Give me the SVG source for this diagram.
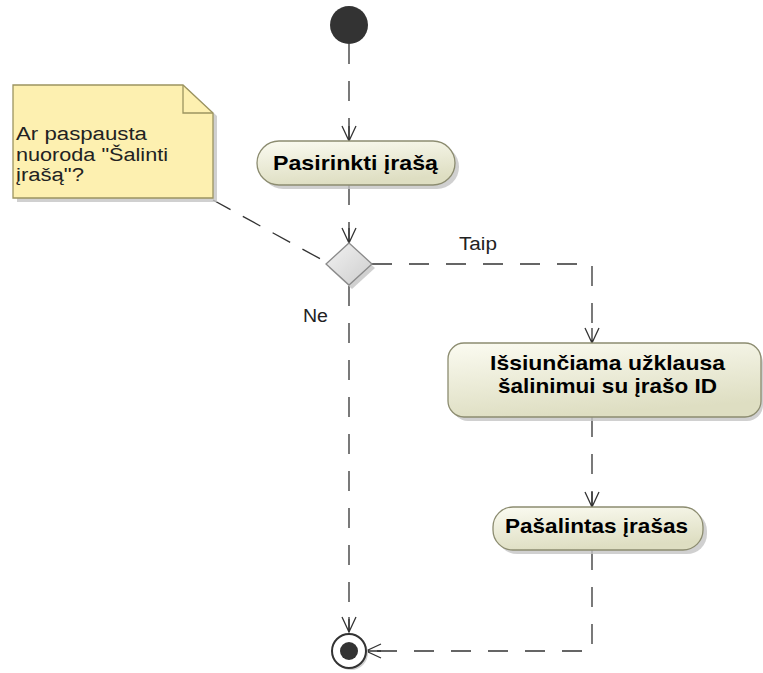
<svg xmlns="http://www.w3.org/2000/svg" width="763" height="673" viewBox="0 0 763 673">
<style>
.edge{fill:none;stroke:#333;stroke-width:1.3;stroke-dasharray:20 17}
.act{stroke:#8c8c70;stroke-width:1.3;fill:url(#gAct)}
.shadow{fill:#c4c4c4;opacity:0.8}
.bt{font-family:"Liberation Sans",Arial,sans-serif;font-weight:bold;font-size:21px;fill:#000}
.lt{font-family:"Liberation Sans",Arial,sans-serif;font-size:18px;fill:#222}
</style>
<defs>
<linearGradient id="gAct" x1="0" y1="0" x2="0.3" y2="1">
<stop offset="0" stop-color="#fbfbf1"/>
<stop offset="1" stop-color="#dedec2"/>
</linearGradient>
<linearGradient id="gDec" x1="0" y1="0" x2="1" y2="1">
<stop offset="0" stop-color="#f2f2f2"/>
<stop offset="1" stop-color="#cdcdcd"/>
</linearGradient>
<marker id="arr" markerUnits="userSpaceOnUse" markerWidth="20" markerHeight="20" viewBox="-16 -10 20 20" refX="0" refY="0" orient="auto">
<path d="M-15,-7 L0,0 L-15,7 M-15,0 L0,0" fill="none" stroke="#333" stroke-width="1.3"/>
</marker>
</defs>

<g id="connectors">
<path class="edge" d="M349,44 L349,141" marker-end="url(#arr)"/>
<path class="edge" d="M349,185 L349,243" marker-end="url(#arr)"/>
<path class="edge" d="M372,264 L592,264 L592,343" marker-end="url(#arr)"/>
<path class="edge" d="M349,286 L349,632" marker-end="url(#arr)"/>
<path class="edge" d="M592,417 L592,507" marker-end="url(#arr)"/>
<path class="edge" d="M592,550 L592,651 L366,651" marker-end="url(#arr)"/>
<path class="edge" d="M213,200 L326,262" style="stroke-dasharray:20 14"/>
<text class="lt" x="459" y="250" textLength="38" lengthAdjust="spacingAndGlyphs">Taip</text>
<text class="lt" x="303" y="322" textLength="25" lengthAdjust="spacingAndGlyphs">Ne</text>
</g>

<g id="start">
<circle cx="349" cy="25" r="19" fill="#333"/>
</g>

<g id="note">
<path class="shadow" d="M17,88 L187,88 L217,116 L217,202 L17,202 Z"/>
<path d="M13,85 L183,85 L213,113 L213,198 L13,198 Z" fill="#fdf0b0" stroke="#9c9460" stroke-width="1.3"/>
<path d="M183,85 L183,113 L213,113" fill="none" stroke="#9c9460" stroke-width="1.3"/>
<text class="lt" x="16" y="140" textLength="131" lengthAdjust="spacingAndGlyphs">Ar paspausta</text>
<text class="lt" x="16" y="161" textLength="152" lengthAdjust="spacingAndGlyphs">nuoroda "Šalinti</text>
<text class="lt" x="16" y="181" textLength="68" lengthAdjust="spacingAndGlyphs">įrašą"?</text>
</g>

<g id="a1">
<rect class="shadow" x="261" y="145" width="198" height="44" rx="22"/>
<rect class="act" x="257" y="141" width="198" height="44" rx="22"/>
<text class="bt" x="273" y="170" textLength="165" lengthAdjust="spacingAndGlyphs">Pasirinkti įrašą</text>
</g>

<g id="decision">
<polygon class="shadow" points="352,247 375,268 352,289 329,268"/>
<polygon points="349,243 372,264 349,285 326,264" fill="url(#gDec)" stroke="#8a8a8a" stroke-width="1.3"/>
</g>

<g id="a2">
<rect class="shadow" x="452" y="347" width="311" height="74" rx="16"/>
<rect class="act" x="448" y="343" width="313" height="74" rx="16"/>
<text class="bt" x="490" y="370" textLength="235" lengthAdjust="spacingAndGlyphs">Išsiunčiama užklausa</text>
<text class="bt" x="498" y="393" textLength="219" lengthAdjust="spacingAndGlyphs">šalinimui su įrašo ID</text>
</g>

<g id="a3">
<rect class="shadow" x="497" y="511" width="210" height="43" rx="20"/>
<rect class="act" x="493" y="507" width="210" height="43" rx="20"/>
<text class="bt" x="505" y="533" textLength="183" lengthAdjust="spacingAndGlyphs">Pašalintas įrašas</text>
</g>

<g id="end">
<circle cx="351" cy="653" r="17" fill="#cfcfcf"/>
<circle cx="349" cy="651" r="17" fill="#fff" stroke="#333" stroke-width="2"/>
<circle cx="349" cy="651" r="9" fill="#333"/>
</g>
</svg>
